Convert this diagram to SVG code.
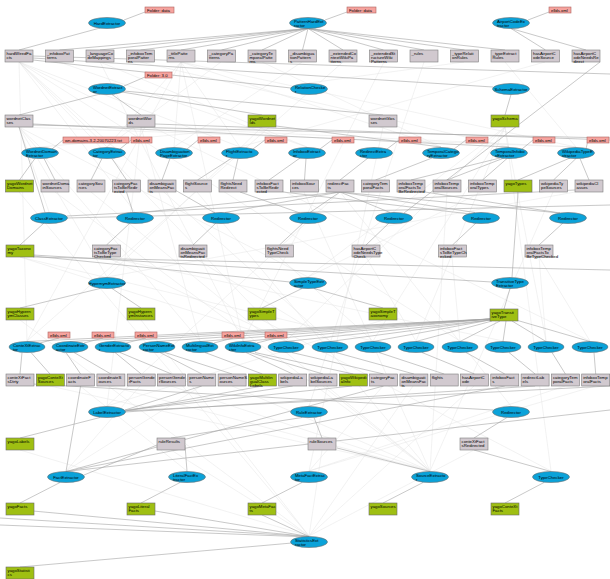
<svg xmlns="http://www.w3.org/2000/svg" width="610" height="579" viewBox="0 0 610 579">
<style>
.e{fill:#0aa2d9;stroke:#6f6f6f;stroke-width:0.6}
.b{fill:#d1c9cf;stroke:#7d7d7d;stroke-width:0.6}
.g{fill:#9fbf12;stroke:#6b6b6b;stroke-width:0.6}
.p{fill:#f6a39e;stroke:#b06460;stroke-width:0.6}
text{font-family:"Liberation Sans",Arial,sans-serif;font-size:4.3px;fill:#000}
.c{text-anchor:middle}
.d line{stroke:#a4a4a4;stroke-width:0.6}
.l line{stroke:#e2e2e2;stroke-width:0.45}
</style>
<g id="connectors">
<g class="l">
<line x1="19" y1="62" x2="107" y2="147"/><line x1="19" y1="62" x2="240" y2="147"/><line x1="19" y1="62" x2="286" y2="341"/><line x1="19" y1="62" x2="330" y2="341"/><line x1="19" y1="62" x2="460" y2="341"/><line x1="19" y1="62" x2="135" y2="212"/><line x1="19" y1="62" x2="27" y2="341"/><line x1="19" y1="62" x2="590" y2="341"/>
<line x1="59" y1="62" x2="307" y2="147"/><line x1="100" y1="62" x2="307" y2="147"/><line x1="100" y1="62" x2="243" y2="341"/><line x1="140" y1="62" x2="509" y2="147"/>
<line x1="181" y1="62" x2="107" y2="147"/><line x1="181" y1="62" x2="174" y2="147"/><line x1="181" y1="62" x2="240" y2="147"/><line x1="181" y1="62" x2="441" y2="147"/><line x1="181" y1="62" x2="576" y2="147"/><line x1="181" y1="62" x2="27" y2="341"/><line x1="181" y1="62" x2="243" y2="341"/>
<line x1="221" y1="62" x2="107" y2="147"/><line x1="262" y1="62" x2="441" y2="147"/><line x1="302" y1="62" x2="174" y2="147"/><line x1="343" y1="62" x2="27" y2="341"/><line x1="384" y1="62" x2="243" y2="341"/><line x1="424" y1="62" x2="309" y2="406"/><line x1="464" y1="62" x2="309" y2="83"/><line x1="505" y1="62" x2="576" y2="147"/><line x1="545" y1="62" x2="240" y2="147"/>
<line x1="19" y1="127" x2="49" y2="212"/><line x1="19" y1="127" x2="576" y2="147"/><line x1="19" y1="127" x2="107" y2="277"/><line x1="19" y1="127" x2="308" y2="277"/><line x1="19" y1="127" x2="200" y2="341"/><line x1="19" y1="127" x2="40" y2="147"/><line x1="141" y1="127" x2="107" y2="406"/><line x1="141" y1="127" x2="200" y2="341"/><line x1="141" y1="127" x2="576" y2="147"/><line x1="262" y1="127" x2="107" y2="277"/><line x1="262" y1="127" x2="40" y2="147"/><line x1="383" y1="127" x2="309" y2="471"/>
<line x1="505" y1="127" x2="286" y2="341"/><line x1="505" y1="127" x2="373" y2="341"/><line x1="505" y1="127" x2="546" y2="341"/><line x1="505" y1="127" x2="551" y2="471"/><line x1="505" y1="127" x2="308" y2="277"/><line x1="505" y1="127" x2="416" y2="341"/>
<line x1="19" y1="192" x2="309" y2="536"/><line x1="55" y1="192" x2="430" y2="471"/><line x1="91" y1="192" x2="430" y2="471"/><line x1="304" y1="192" x2="430" y2="471"/><line x1="447" y1="192" x2="430" y2="471"/><line x1="553" y1="192" x2="430" y2="471"/><line x1="197" y1="192" x2="430" y2="471"/>
<line x1="340" y1="192" x2="511" y2="406"/><line x1="340" y1="192" x2="107" y2="406"/><line x1="482" y1="192" x2="308" y2="277"/><line x1="575" y1="192" x2="107" y2="277"/>
<line x1="20" y1="257" x2="286" y2="341"/><line x1="20" y1="257" x2="373" y2="341"/><line x1="106" y1="257" x2="286" y2="341"/><line x1="193" y1="257" x2="330" y2="341"/><line x1="279" y1="257" x2="373" y2="341"/><line x1="366" y1="257" x2="416" y2="341"/><line x1="452" y1="257" x2="460" y2="341"/><line x1="539" y1="257" x2="546" y2="341"/><line x1="539" y1="257" x2="590" y2="341"/><line x1="106" y1="257" x2="503" y2="341"/>
<line x1="262" y1="320" x2="551" y2="471"/><line x1="383" y1="320" x2="107" y2="406"/><line x1="20" y1="320" x2="309" y2="536"/><line x1="141" y1="320" x2="309" y2="536"/>
<line x1="50" y1="386" x2="430" y2="471"/><line x1="110" y1="386" x2="430" y2="471"/><line x1="171" y1="386" x2="430" y2="471"/><line x1="232" y1="386" x2="430" y2="471"/><line x1="323" y1="386" x2="430" y2="471"/><line x1="80" y1="386" x2="187" y2="471"/><line x1="140" y1="386" x2="66" y2="471"/><line x1="201" y1="386" x2="66" y2="471"/><line x1="383" y1="386" x2="309" y2="471"/><line x1="413" y1="386" x2="309" y2="536"/><line x1="474" y1="386" x2="309" y2="536"/><line x1="565" y1="386" x2="309" y2="471"/><line x1="595" y1="386" x2="309" y2="471"/>
<line x1="20" y1="450" x2="309" y2="536"/><line x1="171" y1="450" x2="309" y2="536"/><line x1="322" y1="450" x2="309" y2="536"/><line x1="474" y1="450" x2="309" y2="536"/>
</g>
<g class="d">
<line x1="124" y1="20" x2="145" y2="12"/><line x1="100" y1="28" x2="19" y2="50"/>
<line x1="325" y1="20" x2="347" y2="12"/>
<line x1="308" y1="28.5" x2="59.5" y2="50"/><line x1="308" y1="28.5" x2="100" y2="50"/><line x1="308" y1="28.5" x2="140.5" y2="50"/><line x1="308" y1="28.5" x2="181" y2="50"/><line x1="308" y1="28.5" x2="221.5" y2="50"/><line x1="308" y1="28.5" x2="262" y2="50"/><line x1="308" y1="28.5" x2="302.5" y2="50"/><line x1="308" y1="28.5" x2="343" y2="50"/><line x1="308" y1="28.5" x2="383.5" y2="50"/><line x1="308" y1="28.5" x2="424" y2="50"/><line x1="308" y1="28.5" x2="464.5" y2="50"/><line x1="308" y1="28.5" x2="505" y2="50"/>
<line x1="528" y1="20" x2="549" y2="12"/><line x1="511" y1="28.5" x2="545.5" y2="50"/><line x1="511" y1="28.5" x2="586" y2="50"/>
<line x1="33" y1="58" x2="493" y2="87"/><line x1="33" y1="60" x2="291" y2="88"/><line x1="33" y1="56" x2="610" y2="74"/>
<line x1="124" y1="86" x2="145" y2="77"/><line x1="100" y1="94" x2="19" y2="115"/><line x1="112" y1="94.5" x2="141" y2="115"/><line x1="124" y1="91" x2="383" y2="115"/><line x1="122" y1="92" x2="262" y2="115"/>
<line x1="511" y1="94.5" x2="505" y2="115"/>
<line x1="33" y1="125" x2="610" y2="138"/><line x1="33" y1="124" x2="509" y2="147"/><line x1="155" y1="124" x2="610" y2="140"/><line x1="276" y1="126" x2="441" y2="147"/>
<line x1="63" y1="140" x2="52" y2="149"/><line x1="131" y1="140" x2="120" y2="149"/><line x1="198" y1="140" x2="187" y2="149"/><line x1="265" y1="140" x2="253" y2="149"/><line x1="332" y1="140" x2="320" y2="149"/><line x1="399" y1="140" x2="387" y2="149"/><line x1="466" y1="140" x2="454" y2="149"/><line x1="533" y1="140" x2="522" y2="149"/><line x1="588" y1="140" x2="586" y2="149"/>
<line x1="35" y1="158.5" x2="19.5" y2="180"/><line x1="44" y1="158.5" x2="55" y2="180"/>
<line x1="102" y1="158.5" x2="91" y2="180"/><line x1="112" y1="158.5" x2="126.5" y2="180"/>
<line x1="170" y1="158.5" x2="162" y2="180"/>
<line x1="232" y1="158" x2="197.5" y2="180"/><line x1="238" y1="158.5" x2="233" y2="180"/>
<line x1="300" y1="158" x2="269" y2="180"/><line x1="306" y1="158.5" x2="304.5" y2="180"/>
<line x1="368" y1="158" x2="340" y2="180"/>
<line x1="432" y1="158" x2="375.5" y2="180"/>
<line x1="500" y1="158" x2="411" y2="180"/><line x1="504" y1="158" x2="447" y2="180"/><line x1="507" y1="158.5" x2="482.5" y2="180"/>
<line x1="570" y1="158" x2="518" y2="180"/><line x1="576" y1="158.5" x2="553.5" y2="180"/><line x1="580" y1="158.5" x2="589" y2="180"/>
<line x1="126.5" y1="192" x2="133" y2="212.5"/><line x1="175" y1="190" x2="215" y2="213"/><line x1="240" y1="192" x2="300" y2="213"/><line x1="600" y1="62" x2="404" y2="213"/><line x1="283" y1="192" x2="470" y2="214"/><line x1="425" y1="192" x2="560" y2="213"/>
<line x1="340" y1="192" x2="140" y2="212.5"/><line x1="340" y1="192" x2="225" y2="212.5"/><line x1="340" y1="192" x2="310" y2="212.5"/><line x1="340" y1="192" x2="390" y2="212.5"/><line x1="340" y1="192" x2="475" y2="212.5"/><line x1="340" y1="192" x2="560" y2="213"/>
<line x1="19" y1="127" x2="45" y2="212.5"/><line x1="67" y1="216" x2="575" y2="190"/><line x1="67" y1="218" x2="610" y2="205"/>
<line x1="44" y1="223" x2="20" y2="245"/><line x1="130" y1="223" x2="106.5" y2="245"/><line x1="216" y1="223" x2="193" y2="245"/><line x1="303" y1="223" x2="279.5" y2="245"/><line x1="389" y1="223" x2="366" y2="245"/><line x1="476" y1="223" x2="452.5" y2="245"/><line x1="563" y1="223" x2="539" y2="245"/>
<line x1="33" y1="255" x2="492" y2="282"/><line x1="33" y1="256" x2="290" y2="282"/><line x1="33" y1="257" x2="610" y2="270"/><line x1="518" y1="192" x2="512" y2="277.5"/>
<line x1="100" y1="288.5" x2="20" y2="308"/><line x1="112" y1="288.5" x2="141" y2="308"/>
<line x1="302" y1="288.5" x2="262" y2="308"/><line x1="314" y1="288.5" x2="383" y2="308"/>
<line x1="510" y1="288.5" x2="504" y2="309"/>
<line x1="59" y1="338" x2="40" y2="343"/><line x1="103" y1="338" x2="84" y2="343"/><line x1="146" y1="338" x2="126" y2="343"/><line x1="233" y1="338" x2="214" y2="343"/><line x1="276" y1="338" x2="257" y2="343"/>
<line x1="490" y1="319" x2="27" y2="341.5"/><line x1="490" y1="319" x2="70" y2="341.5"/><line x1="490" y1="319" x2="113" y2="341.5"/><line x1="490" y1="319" x2="157" y2="341.5"/><line x1="490" y1="319" x2="200" y2="341.5"/><line x1="490" y1="319" x2="243" y2="341.5"/><line x1="490" y1="320" x2="286" y2="341.5"/><line x1="490" y1="320" x2="330" y2="341.5"/><line x1="490" y1="320" x2="373" y2="341.5"/><line x1="492" y1="321" x2="416" y2="341.5"/><line x1="500" y1="321" x2="460" y2="341.5"/><line x1="506" y1="321" x2="503" y2="341.5"/><line x1="512" y1="321" x2="546" y2="341.5"/><line x1="516" y1="320" x2="590" y2="341.5"/>
<line x1="22" y1="352.5" x2="20" y2="374"/><line x1="31" y1="352.5" x2="50" y2="374"/>
<line x1="66" y1="352.5" x2="80.6" y2="374"/><line x1="74" y1="352.5" x2="110.9" y2="374"/>
<line x1="115" y1="352.5" x2="141.2" y2="374"/><line x1="120" y1="352.5" x2="171.5" y2="374"/>
<line x1="160" y1="352.5" x2="201.8" y2="374"/><line x1="165" y1="352.5" x2="232.1" y2="374"/>
<line x1="205" y1="352.5" x2="262.4" y2="374"/>
<line x1="246" y1="352.5" x2="292.7" y2="374"/><line x1="250" y1="352.5" x2="323" y2="374"/><line x1="255" y1="352.5" x2="353.3" y2="374"/>
<line x1="292" y1="352.5" x2="383.6" y2="374"/><line x1="336" y1="352.5" x2="413.9" y2="374"/><line x1="379" y1="352.5" x2="444.2" y2="374"/><line x1="422" y1="352.5" x2="474.5" y2="374"/><line x1="466" y1="352.5" x2="504.8" y2="374"/><line x1="509" y1="352.5" x2="535.1" y2="374"/><line x1="552" y1="352.5" x2="565.4" y2="374"/><line x1="594" y1="352.5" x2="595.7" y2="374"/>
<line x1="201.8" y1="386" x2="125" y2="410"/><line x1="262.4" y1="386" x2="125" y2="411"/><line x1="292.7" y1="386" x2="125" y2="411"/><line x1="535.1" y1="386" x2="125" y2="412"/><line x1="610" y1="386" x2="125" y2="411"/><line x1="352" y1="386" x2="125" y2="410"/>
<line x1="100" y1="417.5" x2="20" y2="438"/>
<line x1="302" y1="417.5" x2="171" y2="438"/><line x1="314" y1="417.5" x2="322" y2="438"/>
<line x1="33" y1="384" x2="493" y2="410"/><line x1="507" y1="417.5" x2="474" y2="438"/>
<line x1="80.6" y1="386" x2="66" y2="471.5"/><line x1="383.6" y1="386" x2="66" y2="471.5"/><line x1="504.8" y1="386" x2="66" y2="471.5"/><line x1="610" y1="410" x2="66" y2="471.5"/><line x1="157" y1="445" x2="84" y2="475"/><line x1="185" y1="445" x2="187" y2="471.5"/>
<line x1="60" y1="482.5" x2="20" y2="503"/><line x1="180" y1="482.5" x2="141" y2="503"/><line x1="302" y1="482.5" x2="262" y2="503"/><line x1="423" y1="482.5" x2="383" y2="503"/><line x1="544" y1="482.5" x2="505" y2="503"/>
<line x1="474" y1="450" x2="551" y2="471.5"/><line x1="337" y1="448" x2="430" y2="471.5"/>
<line x1="33" y1="511" x2="309" y2="536.5"/><line x1="155" y1="511" x2="309" y2="536.5"/><line x1="262" y1="515" x2="309" y2="536.5"/><line x1="0" y1="518" x2="309" y2="536.5"/><line x1="0" y1="525" x2="309" y2="537"/>
<line x1="292" y1="543" x2="20" y2="567"/>
</g>
</g>
<g id="n_hard"><ellipse class="e" cx="107" cy="23" rx="18.5" ry="5.5"/><text class="c" x="107" y="24.5">HardExtractor</text></g>
<g id="n_folder1"><rect class="p" x="145" y="7" width="29" height="6"/><text x="147" y="11.6">Folder: data</text></g>
<g id="n_patternhard"><ellipse class="e" cx="308" cy="23" rx="18.5" ry="5.5"/><text x="294" y="22.5">PatternHardExt</text><text x="294" y="26.5">ractor</text></g>
<g id="n_folder2"><rect class="p" x="347" y="7" width="29" height="6"/><text x="349" y="11.6">Folder: data</text></g>
<g id="n_airport"><ellipse class="e" cx="511" cy="23" rx="18.5" ry="5.5"/><text x="497" y="22.5">AirportCodeEx</text><text x="497" y="26.5">tractor</text></g>
<g id="n_pk0"><rect class="p" x="549" y="7" width="22" height="6"/><text x="551" y="11.6">ellds.xml</text></g>
<g id="n_b1"><rect class="b" x="5" y="50" width="28" height="12"/><text x="6.5" y="54.5">hardWiredFa</text><text x="6.5" y="58.7">cts</text></g>
<g id="n_b2"><rect class="b" x="45.5" y="50" width="28" height="12"/><text x="47" y="54.5">_infoboxPat</text><text x="47" y="58.7">terns</text></g>
<g id="n_b3"><rect class="b" x="86" y="50" width="28" height="12"/><text x="87.5" y="54.5">_languageCo</text><text x="87.5" y="58.7">deMappings</text></g>
<g id="n_b4"><rect class="b" x="126.5" y="50" width="28" height="12"/><text x="128" y="54.5">_infoboxTem</text><text x="128" y="58.7">poralPatter</text><text x="128" y="62.9">ns</text></g>
<g id="n_b5"><rect class="b" x="167" y="50" width="28" height="12"/><text x="168.5" y="54.5">_titlePatte</text><text x="168.5" y="58.7">rns</text></g>
<g id="n_b6"><rect class="b" x="207.5" y="50" width="28" height="12"/><text x="209" y="54.5">_categoryPa</text><text x="209" y="58.7">tterns</text></g>
<g id="n_b7"><rect class="b" x="248" y="50" width="28" height="12"/><text x="249.5" y="54.5">_categoryTe</text><text x="249.5" y="58.7">mporalPatte</text><text x="249.5" y="62.9">rns</text></g>
<g id="n_b8"><rect class="b" x="288.5" y="50" width="28" height="12"/><text x="290" y="54.5">_disambigua</text><text x="290" y="58.7">tionPattern</text><text x="290" y="62.9">s</text></g>
<g id="n_b9"><rect class="b" x="329" y="50" width="28" height="12"/><text x="330.5" y="54.5">_extendedCo</text><text x="330.5" y="58.7">ntextWikiPa</text><text x="330.5" y="62.9">tterns</text></g>
<g id="n_b10"><rect class="b" x="369.5" y="50" width="28" height="12"/><text x="371" y="54.5">_extendedSt</text><text x="371" y="58.7">ructureWiki</text><text x="371" y="62.9">Patterns</text></g>
<g id="n_b11"><rect class="b" x="410" y="50" width="28" height="12"/><text x="411.5" y="54.5">_rules</text></g>
<g id="n_b12"><rect class="b" x="450.5" y="50" width="28" height="12"/><text x="452" y="54.5">_typeRelati</text><text x="452" y="58.7">onRules</text></g>
<g id="n_b13"><rect class="b" x="491" y="50" width="28" height="12"/><text x="492.5" y="54.5">_typeExtract</text><text x="492.5" y="58.7">Rules</text></g>
<g id="n_b14"><rect class="b" x="531.5" y="50" width="28" height="12"/><text x="533" y="54.5">hasAirportC</text><text x="533" y="58.7">odeSource</text></g>
<g id="n_b15"><rect class="b" x="572" y="50" width="28" height="12"/><text x="573.5" y="54.5">hasAirportC</text><text x="573.5" y="58.7">odeNeedsRe</text><text x="573.5" y="62.9">direct</text></g>
<g id="n_wordnet"><ellipse class="e" cx="107" cy="89" rx="18.5" ry="5.5"/><text x="93" y="88.5">WordnetExtract</text><text x="93" y="92.5">or</text></g>
<g id="n_folder3"><rect class="p" x="145" y="72" width="27" height="6"/><text x="147" y="76.6">Folder: 3.0</text></g>
<g id="n_relation"><ellipse class="e" cx="309" cy="89" rx="18.5" ry="5.5"/><text x="295" y="88.5">RelationChecke</text><text x="295" y="92.5">r</text></g>
<g id="n_schema"><ellipse class="e" cx="511" cy="89" rx="18.5" ry="5.5"/><text class="c" x="511" y="90.5">SchemaExtractor</text></g>
<g id="n_d1"><rect class="b" x="5" y="115" width="28" height="12"/><text x="6.5" y="119.5">wordnetClas</text><text x="6.5" y="123.7">ses</text></g>
<g id="n_d2"><rect class="b" x="127" y="115" width="28" height="12"/><text x="128.5" y="119.5">wordnetWor</text><text x="128.5" y="123.7">ds</text></g>
<g id="n_d3"><rect class="g" x="248" y="115" width="28" height="12"/><text x="249.5" y="119.5">yagoWordnet</text><text x="249.5" y="123.7">Ids</text></g>
<g id="n_d4"><rect class="b" x="369" y="115" width="28" height="12"/><text x="370.5" y="119.5">wordnetGlos</text><text x="370.5" y="123.7">ses</text></g>
<g id="n_d5"><rect class="g" x="491" y="115" width="28" height="12"/><text x="492.5" y="119.5">yagoSchema</text></g>
<g id="n_pk1"><rect class="p" x="63" y="137" width="66" height="6"/><text x="65" y="141.6">wn-domains-3.2-20070223.txt</text></g>
<g id="n_pk2"><rect class="p" x="131" y="137" width="21" height="6"/><text x="133" y="141.6">ellds.xml</text></g>
<g id="n_pk3"><rect class="p" x="198" y="137" width="22" height="6"/><text x="200" y="141.6">ellds.xml</text></g>
<g id="n_pk4"><rect class="p" x="265" y="137" width="22" height="6"/><text x="267" y="141.6">ellds.xml</text></g>
<g id="n_pk5"><rect class="p" x="332" y="137" width="22" height="6"/><text x="334" y="141.6">ellds.xml</text></g>
<g id="n_pk6"><rect class="p" x="399" y="137" width="22" height="6"/><text x="401" y="141.6">ellds.xml</text></g>
<g id="n_pk7"><rect class="p" x="466" y="137" width="22" height="6"/><text x="468" y="141.6">ellds.xml</text></g>
<g id="n_pk8"><rect class="p" x="533" y="137" width="22" height="6"/><text x="535" y="141.6">ellds.xml</text></g>
<g id="n_pk9"><rect class="p" x="587" y="137" width="22" height="6"/><text x="589" y="141.6">ellds.xml</text></g>
<g id="n_f1"><ellipse class="e" cx="40" cy="153" rx="18.5" ry="5.5"/><text x="26" y="152.5">WordnetDomain</text><text x="26" y="156.5">Extractor</text></g>
<g id="n_f2"><ellipse class="e" cx="107" cy="153" rx="18.5" ry="5.5"/><text x="93" y="152.5">CategoryExtrac</text><text x="93" y="156.5">tor</text></g>
<g id="n_f3"><ellipse class="e" cx="174" cy="153" rx="18.5" ry="5.5"/><text x="160" y="152.5">Disambiguation</text><text x="160" y="156.5">PageExtractor</text></g>
<g id="n_f4"><ellipse class="e" cx="240" cy="153" rx="18.5" ry="5.5"/><text x="226" y="152.5">FlightExtracto</text><text x="226" y="156.5">r</text></g>
<g id="n_f5"><ellipse class="e" cx="307" cy="153" rx="18.5" ry="5.5"/><text x="293" y="152.5">InfoboxExtract</text><text x="293" y="156.5">or</text></g>
<g id="n_f6"><ellipse class="e" cx="374" cy="153" rx="18.5" ry="5.5"/><text x="360" y="152.5">RedirectExtra</text><text x="360" y="156.5">ctor</text></g>
<g id="n_f7"><ellipse class="e" cx="441" cy="153" rx="18.5" ry="5.5"/><text x="427" y="152.5">TemporalCatego</text><text x="427" y="156.5">ryExtractor</text></g>
<g id="n_f8"><ellipse class="e" cx="509" cy="153" rx="18.5" ry="5.5"/><text x="495" y="152.5">TemporalInfobo</text><text x="495" y="156.5">xExtractor</text></g>
<g id="n_f9"><ellipse class="e" cx="576" cy="153" rx="18.5" ry="5.5"/><text x="562" y="152.5">WikipediaTypeE</text><text x="562" y="156.5">xtractor</text></g>
<g id="n_g1"><rect class="g" x="5.5" y="180" width="28" height="12"/><text x="7" y="184.5">yagoWordnet</text><text x="7" y="188.7">Domains</text></g>
<g id="n_g2"><rect class="b" x="41" y="180" width="28" height="12"/><text x="42.5" y="184.5">wordnetDoma</text><text x="42.5" y="188.7">inSources</text></g>
<g id="n_g3"><rect class="b" x="77" y="180" width="28" height="12"/><text x="78.5" y="184.5">categorySou</text><text x="78.5" y="188.7">rces</text></g>
<g id="n_g4"><rect class="b" x="112.5" y="180" width="28" height="12"/><text x="114" y="184.5">categoryFac</text><text x="114" y="188.7">tsToBeRedir</text><text x="114" y="192.9">ected</text></g>
<g id="n_g5"><rect class="b" x="148" y="180" width="28" height="12"/><text x="149.5" y="184.5">disambiguati</text><text x="149.5" y="188.7">onMeansFac</text><text x="149.5" y="192.9">ts</text></g>
<g id="n_g6"><rect class="b" x="183.5" y="180" width="28" height="12"/><text x="185" y="184.5">flightSource</text><text x="185" y="188.7">s</text></g>
<g id="n_g7"><rect class="b" x="219" y="180" width="28" height="12"/><text x="220.5" y="184.5">flightsNeed</text><text x="220.5" y="188.7">Redirect</text></g>
<g id="n_g8"><rect class="b" x="255" y="180" width="28" height="12"/><text x="256.5" y="184.5">infoboxFact</text><text x="256.5" y="188.7">sToBeRedir</text><text x="256.5" y="192.9">ected</text></g>
<g id="n_g9"><rect class="b" x="290.5" y="180" width="28" height="12"/><text x="292" y="184.5">infoboxSour</text><text x="292" y="188.7">ces</text></g>
<g id="n_g10"><rect class="b" x="326" y="180" width="28" height="12"/><text x="327.5" y="184.5">redirectFac</text><text x="327.5" y="188.7">ts</text></g>
<g id="n_g11"><rect class="b" x="361.5" y="180" width="28" height="12"/><text x="363" y="184.5">categoryTem</text><text x="363" y="188.7">poralFacts</text></g>
<g id="n_g12"><rect class="b" x="397" y="180" width="28" height="12"/><text x="398.5" y="184.5">infoboxTemp</text><text x="398.5" y="188.7">oralFactsTo</text><text x="398.5" y="192.9">BeRedirected</text></g>
<g id="n_g13"><rect class="b" x="433" y="180" width="28" height="12"/><text x="434.5" y="184.5">infoboxTemp</text><text x="434.5" y="188.7">oralSources</text></g>
<g id="n_g14"><rect class="b" x="468.5" y="180" width="28" height="12"/><text x="470" y="184.5">infoboxTemp</text><text x="470" y="188.7">oralTypes</text></g>
<g id="n_g15"><rect class="g" x="504" y="180" width="28" height="12"/><text x="505.5" y="184.5">yagoTypes</text></g>
<g id="n_g16"><rect class="b" x="539.5" y="180" width="28" height="12"/><text x="541" y="184.5">wikipediaTy</text><text x="541" y="188.7">peSources</text></g>
<g id="n_g17"><rect class="b" x="575" y="180" width="28" height="12"/><text x="576.5" y="184.5">wikipediaCl</text><text x="576.5" y="188.7">asses</text></g>
<g id="n_h1"><ellipse class="e" cx="49" cy="218" rx="18.5" ry="5.5"/><text class="c" x="49" y="219.5">ClassExtractor</text></g>
<g id="n_h2"><ellipse class="e" cx="135" cy="218" rx="18.5" ry="5.5"/><text class="c" x="135" y="219.5">Redirector</text></g>
<g id="n_h3"><ellipse class="e" cx="221" cy="218" rx="18.5" ry="5.5"/><text class="c" x="221" y="219.5">Redirector</text></g>
<g id="n_h4"><ellipse class="e" cx="308" cy="218" rx="18.5" ry="5.5"/><text class="c" x="308" y="219.5">Redirector</text></g>
<g id="n_h5"><ellipse class="e" cx="394" cy="218" rx="18.5" ry="5.5"/><text class="c" x="394" y="219.5">Redirector</text></g>
<g id="n_h6"><ellipse class="e" cx="481" cy="218" rx="18.5" ry="5.5"/><text class="c" x="481" y="219.5">Redirector</text></g>
<g id="n_h7"><ellipse class="e" cx="568" cy="218" rx="18.5" ry="5.5"/><text class="c" x="568" y="219.5">Redirector</text></g>
<g id="n_i1"><rect class="g" x="6" y="245" width="28" height="12"/><text x="7.5" y="249.5">yagoTaxono</text><text x="7.5" y="253.7">my</text></g>
<g id="n_i2"><rect class="b" x="92.5" y="245" width="28" height="12"/><text x="94" y="249.5">categoryFac</text><text x="94" y="253.7">tsToBeType</text><text x="94" y="257.9">Checked</text></g>
<g id="n_i3"><rect class="b" x="179" y="245" width="28" height="12"/><text x="180.5" y="249.5">disambiguati</text><text x="180.5" y="253.7">onMeansFac</text><text x="180.5" y="257.9">tsRedirected</text></g>
<g id="n_i4"><rect class="b" x="265.5" y="245" width="28" height="12"/><text x="267" y="249.5">flightsNeed</text><text x="267" y="253.7">TypeCheck</text></g>
<g id="n_i5"><rect class="b" x="352" y="245" width="28" height="12"/><text x="353.5" y="249.5">hasAirportC</text><text x="353.5" y="253.7">odeNeedsType</text><text x="353.5" y="257.9">Check</text></g>
<g id="n_i6"><rect class="b" x="438.5" y="245" width="28" height="12"/><text x="440" y="249.5">infoboxFact</text><text x="440" y="253.7">sToBeTypeCh</text><text x="440" y="257.9">ecked</text></g>
<g id="n_i7"><rect class="b" x="525" y="245" width="28" height="12"/><text x="526.5" y="249.5">infoboxTemp</text><text x="526.5" y="253.7">oralFactsTo</text><text x="526.5" y="257.9">BeTypeChecked</text></g>
<g id="n_j1"><ellipse class="e" cx="107" cy="283" rx="18.5" ry="5.5"/><text class="c" x="107" y="284.5">HypernymExtractor</text></g>
<g id="n_j2"><ellipse class="e" cx="308" cy="283" rx="18.5" ry="5.5"/><text x="294" y="282.5">SimpleTypeExtr</text><text x="294" y="286.5">actor</text></g>
<g id="n_j3"><ellipse class="e" cx="510" cy="283" rx="18.5" ry="5.5"/><text x="496" y="282.5">TransitiveType</text><text x="496" y="286.5">Extractor</text></g>
<g id="n_k1"><rect class="g" x="6" y="308" width="28" height="12"/><text x="7.5" y="312.5">yagoHypern</text><text x="7.5" y="316.7">ymClasses</text></g>
<g id="n_k2"><rect class="g" x="127" y="308" width="28" height="12"/><text x="128.5" y="312.5">yagoHypern</text><text x="128.5" y="316.7">ymInstances</text></g>
<g id="n_k3"><rect class="g" x="248" y="308" width="28" height="12"/><text x="249.5" y="312.5">yagoSimpleT</text><text x="249.5" y="316.7">ypes</text></g>
<g id="n_k4"><rect class="g" x="369" y="308" width="28" height="12"/><text x="370.5" y="312.5">yagoSimpleT</text><text x="370.5" y="316.7">axonomy</text></g>
<g id="n_k5"><rect class="g" x="490" y="309" width="28" height="12"/><text x="491.5" y="313.5">yagoTransit</text><text x="491.5" y="317.7">iveType</text></g>
<g id="n_pk10"><rect class="p" x="48" y="332" width="22" height="6"/><text x="50" y="336.6">ellds.xml</text></g>
<g id="n_pk11"><rect class="p" x="92" y="332" width="22" height="6"/><text x="94" y="336.6">ellds.xml</text></g>
<g id="n_pk12"><rect class="p" x="135" y="332" width="22" height="6"/><text x="137" y="336.6">ellds.xml</text></g>
<g id="n_pk13"><rect class="p" x="222" y="332" width="22" height="6"/><text x="224" y="336.6">ellds.xml</text></g>
<g id="n_pk14"><rect class="p" x="265" y="332" width="22" height="6"/><text x="267" y="336.6">ellds.xml</text></g>
<g id="n_l1"><ellipse class="e" cx="27" cy="347" rx="18" ry="5.5"/><text x="13" y="346.5">ConteXtExtrac</text><text x="13" y="350.5">tor</text></g>
<g id="n_l2"><ellipse class="e" cx="70" cy="347" rx="18" ry="5.5"/><text x="56" y="346.5">CoordinateExtr</text><text x="56" y="350.5">actor</text></g>
<g id="n_l3"><ellipse class="e" cx="113" cy="347" rx="18" ry="5.5"/><text x="99" y="346.5">GenderExtracto</text><text x="99" y="350.5">r</text></g>
<g id="n_l4"><ellipse class="e" cx="157" cy="347" rx="18" ry="5.5"/><text x="143" y="346.5">PersonNameExt</text><text x="143" y="350.5">ractor</text></g>
<g id="n_l5"><ellipse class="e" cx="200" cy="347" rx="18" ry="5.5"/><text x="186" y="346.5">MultilingualExt</text><text x="186" y="350.5">ractor</text></g>
<g id="n_l6"><ellipse class="e" cx="243" cy="347" rx="18" ry="5.5"/><text x="229" y="346.5">WikiInfoExtra</text><text x="229" y="350.5">ctor</text></g>
<g id="n_l7"><ellipse class="e" cx="286" cy="347" rx="18" ry="5.5"/><text class="c" x="286" y="348.5">TypeChecker</text></g>
<g id="n_l8"><ellipse class="e" cx="330" cy="347" rx="18" ry="5.5"/><text class="c" x="330" y="348.5">TypeChecker</text></g>
<g id="n_l9"><ellipse class="e" cx="373" cy="347" rx="18" ry="5.5"/><text class="c" x="373" y="348.5">TypeChecker</text></g>
<g id="n_l10"><ellipse class="e" cx="416" cy="347" rx="18" ry="5.5"/><text class="c" x="416" y="348.5">TypeChecker</text></g>
<g id="n_l11"><ellipse class="e" cx="460" cy="347" rx="18" ry="5.5"/><text class="c" x="460" y="348.5">TypeChecker</text></g>
<g id="n_l12"><ellipse class="e" cx="503" cy="347" rx="18" ry="5.5"/><text class="c" x="503" y="348.5">TypeChecker</text></g>
<g id="n_l13"><ellipse class="e" cx="546" cy="347" rx="18" ry="5.5"/><text class="c" x="546" y="348.5">TypeChecker</text></g>
<g id="n_l14"><ellipse class="e" cx="590" cy="347" rx="18" ry="5.5"/><text class="c" x="590" y="348.5">TypeChecker</text></g>
<g id="n_m1"><rect class="b" x="6" y="374" width="28" height="12"/><text x="7.5" y="378.5">conteXtFact</text><text x="7.5" y="382.7">sDirty</text></g>
<g id="n_m2"><rect class="g" x="36.3" y="374" width="28" height="12"/><text x="37.8" y="378.5">yagoConteXt</text><text x="37.8" y="382.7">Sources</text></g>
<g id="n_m3"><rect class="b" x="66.6" y="374" width="28" height="12"/><text x="68.1" y="378.5">coordinateF</text><text x="68.1" y="382.7">acts</text></g>
<g id="n_m4"><rect class="b" x="96.9" y="374" width="28" height="12"/><text x="98.4" y="378.5">coordinateS</text><text x="98.4" y="382.7">ources</text></g>
<g id="n_m5"><rect class="b" x="127.2" y="374" width="28" height="12"/><text x="128.7" y="378.5">personGende</text><text x="128.7" y="382.7">rFacts</text></g>
<g id="n_m6"><rect class="b" x="157.5" y="374" width="28" height="12"/><text x="159" y="378.5">personGende</text><text x="159" y="382.7">rSources</text></g>
<g id="n_m7"><rect class="b" x="187.8" y="374" width="28" height="12"/><text x="189.3" y="378.5">personName</text><text x="189.3" y="382.7">s</text></g>
<g id="n_m8"><rect class="b" x="218.1" y="374" width="28" height="12"/><text x="219.6" y="378.5">personNameS</text><text x="219.6" y="382.7">ources</text></g>
<g id="n_m9"><rect class="g" x="248.4" y="374" width="28" height="12"/><text x="249.9" y="378.5">yagoMultilin</text><text x="249.9" y="382.7">gualClass</text><text x="249.9" y="386.9">Labels</text></g>
<g id="n_m10"><rect class="b" x="278.7" y="374" width="28" height="12"/><text x="280.2" y="378.5">wikipediaLa</text><text x="280.2" y="382.7">bels</text></g>
<g id="n_m11"><rect class="b" x="309" y="374" width="28" height="12"/><text x="310.5" y="378.5">wikipediaLa</text><text x="310.5" y="382.7">belSources</text></g>
<g id="n_m12"><rect class="g" x="339.3" y="374" width="28" height="12"/><text x="340.8" y="378.5">yagoWikipedi</text><text x="340.8" y="382.7">aInfo</text></g>
<g id="n_m13"><rect class="b" x="369.6" y="374" width="28" height="12"/><text x="371.1" y="378.5">categoryFac</text><text x="371.1" y="382.7">ts</text></g>
<g id="n_m14"><rect class="b" x="399.9" y="374" width="28" height="12"/><text x="401.4" y="378.5">disambiguati</text><text x="401.4" y="382.7">onMeansFac</text><text x="401.4" y="386.9">ts</text></g>
<g id="n_m15"><rect class="b" x="430.2" y="374" width="28" height="12"/><text x="431.7" y="378.5">flights</text></g>
<g id="n_m16"><rect class="b" x="460.5" y="374" width="28" height="12"/><text x="462" y="378.5">hasAirportC</text><text x="462" y="382.7">ode</text></g>
<g id="n_m17"><rect class="b" x="490.8" y="374" width="28" height="12"/><text x="492.3" y="378.5">infoboxFact</text><text x="492.3" y="382.7">s</text></g>
<g id="n_m18"><rect class="b" x="521.1" y="374" width="28" height="12"/><text x="522.6" y="378.5">redirectLab</text><text x="522.6" y="382.7">els</text></g>
<g id="n_m19"><rect class="b" x="551.4" y="374" width="28" height="12"/><text x="552.9" y="378.5">categoryTem</text><text x="552.9" y="382.7">poralFacts</text></g>
<g id="n_m20"><rect class="b" x="581.7" y="374" width="28" height="12"/><text x="583.2" y="378.5">infoboxTemp</text><text x="583.2" y="382.7">oralFacts</text></g>
<g id="n_n1"><ellipse class="e" cx="107" cy="412" rx="18.5" ry="5.5"/><text class="c" x="107" y="413.5">LabelExtractor</text></g>
<g id="n_n2"><ellipse class="e" cx="309" cy="412" rx="18.5" ry="5.5"/><text class="c" x="309" y="413.5">RuleExtractor</text></g>
<g id="n_n3"><ellipse class="e" cx="511" cy="412" rx="18.5" ry="5.5"/><text class="c" x="511" y="413.5">Redirector</text></g>
<g id="n_o1"><rect class="g" x="6" y="438" width="28" height="12"/><text x="7.5" y="442.5">yagoLabels</text></g>
<g id="n_o2"><rect class="b" x="157" y="438" width="28" height="12"/><text x="158.5" y="442.5">ruleResults</text></g>
<g id="n_o3"><rect class="b" x="308" y="438" width="28" height="12"/><text x="309.5" y="442.5">ruleSources</text></g>
<g id="n_o4"><rect class="b" x="460" y="438" width="28" height="12"/><text x="461.5" y="442.5">conteXtFact</text><text x="461.5" y="446.7">sRedirected</text></g>
<g id="n_p1"><ellipse class="e" cx="66" cy="477" rx="18.5" ry="5.5"/><text class="c" x="66" y="478.5">FactExtractor</text></g>
<g id="n_p2"><ellipse class="e" cx="187" cy="477" rx="18.5" ry="5.5"/><text x="173" y="476.5">LiteralFactEx</text><text x="173" y="480.5">tractor</text></g>
<g id="n_p3"><ellipse class="e" cx="309" cy="477" rx="18.5" ry="5.5"/><text x="295" y="476.5">MetaFactExtrac</text><text x="295" y="480.5">tor</text></g>
<g id="n_p4"><ellipse class="e" cx="430" cy="477" rx="18.5" ry="5.5"/><text x="416" y="476.5">SourceExtracto</text><text x="416" y="480.5">r</text></g>
<g id="n_p5"><ellipse class="e" cx="551" cy="477" rx="18.5" ry="5.5"/><text class="c" x="551" y="478.5">TypeChecker</text></g>
<g id="n_q1"><rect class="g" x="6" y="503" width="28" height="12"/><text x="7.5" y="507.5">yagoFacts</text></g>
<g id="n_q2"><rect class="g" x="127" y="503" width="28" height="12"/><text x="128.5" y="507.5">yagoLiteral</text><text x="128.5" y="511.7">Facts</text></g>
<g id="n_q3"><rect class="g" x="248" y="503" width="28" height="12"/><text x="249.5" y="507.5">yagoMetaFac</text><text x="249.5" y="511.7">ts</text></g>
<g id="n_q4"><rect class="g" x="369" y="503" width="28" height="12"/><text x="370.5" y="507.5">yagoSources</text></g>
<g id="n_q5"><rect class="g" x="491" y="503" width="28" height="12"/><text x="492.5" y="507.5">yagoConteXt</text><text x="492.5" y="511.7">Facts</text></g>
<g id="n_r1"><ellipse class="e" cx="309" cy="542" rx="18.5" ry="5.5"/><text x="295" y="541.5">StatisticsExt</text><text x="295" y="545.5">ractor</text></g>
<g id="n_s1"><rect class="g" x="6" y="567" width="28" height="12"/><text x="7.5" y="571.5">yagoStatisti</text><text x="7.5" y="575.7">cs</text></g>
</svg>
